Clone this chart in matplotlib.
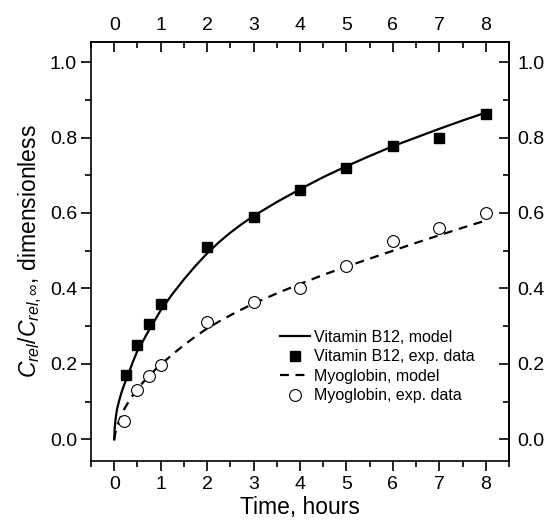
import numpy as np
import matplotlib
matplotlib.use("Agg")
import matplotlib.pyplot as plt
from matplotlib.ticker import MultipleLocator, FormatStrFormatter

plt.rcParams['font.family'] = ['Liberation Sans', 'DejaVu Sans']
plt.rcParams['mathtext.fontset'] = 'custom'
plt.rcParams['mathtext.rm'] = 'Liberation Sans'
plt.rcParams['mathtext.it'] = 'Liberation Sans:italic'

# experimental points
t_b12 = [0.25, 0.5, 0.75, 1.0, 2.0, 3.0, 4.0, 5.0, 6.0, 7.0, 8.0]
c_b12 = [0.172, 0.25, 0.305, 0.36, 0.51, 0.59, 0.66, 0.72, 0.778, 0.80, 0.862]

t_myo = [0.2, 0.5, 0.75, 1.0, 2.0, 3.0, 4.0, 5.0, 6.0, 7.0, 8.0]
c_myo = [0.05, 0.132, 0.169, 0.198, 0.31, 0.363, 0.40, 0.46, 0.525, 0.56, 0.60]

# model curves
t_model = [0, 0.01, 0.03, 0.06, 0.1, 0.15, 0.2, 0.3, 0.4, 0.5, 0.625, 0.75,
           0.875, 1.0, 1.25, 1.5, 1.75, 2.0, 2.25, 2.5, 2.75, 3.0, 3.5, 4.0,
           4.5, 5.0, 5.5, 6.0, 6.5, 7.0, 7.5, 8.0]
b12_model = [0, 0.03, 0.055, 0.08, 0.10, 0.122, 0.14, 0.172, 0.205, 0.235,
             0.262, 0.29, 0.316, 0.342, 0.385, 0.424, 0.46, 0.493, 0.522, 0.548,
             0.571, 0.592, 0.629, 0.663, 0.695, 0.724, 0.751, 0.777, 0.80,
             0.823, 0.845, 0.866]
myo_model = [0, 0.008, 0.02, 0.033, 0.048, 0.063, 0.077, 0.098, 0.117, 0.134,
             0.152, 0.168, 0.184, 0.198, 0.225, 0.25, 0.273, 0.294, 0.312, 0.329,
             0.345, 0.36, 0.387, 0.412, 0.436, 0.458, 0.479, 0.50, 0.521, 0.541,
             0.561, 0.58]

fig = plt.figure(figsize=(5.47, 5.22), dpi=100)
ax = fig.add_axes([91/547, 1 - 461/522, 418/547, 419/522])

ax.plot(t_model, b12_model, color='black', lw=1.6, label='Vitamin B12, model')
ax.plot(t_b12, c_b12, 's', color='black', ms=7, label='Vitamin B12, exp. data')
ax.plot(t_model, myo_model, color='black', lw=1.6, dashes=(4, 3),
        label='Myoglobin, model')
ax.plot(t_myo, c_myo, 'o', mfc='white', mec='black', mew=0.8, ms=8.5,
        label='Myoglobin, exp. data')

ax.set_xlim(-0.5, 8.5)
ax.set_ylim(-0.057, 1.053)

for s in ax.spines.values():
    s.set_linewidth(1.2)

# top and right axes repeat the scales with inward ticks
top = ax.secondary_xaxis('top')
right = ax.secondary_yaxis('right')

for a in (ax.xaxis, top.xaxis):
    a.set_major_locator(MultipleLocator(1))
    a.set_minor_locator(MultipleLocator(0.5))
for a in (ax.yaxis, right.yaxis):
    a.set_major_locator(MultipleLocator(0.2))
    a.set_minor_locator(MultipleLocator(0.1))
    a.set_major_formatter(FormatStrFormatter('%.1f'))

ax.tick_params(which='both', width=1.2, labelsize=14, direction='out',
               top=False, right=False)
ax.tick_params(which='major', length=7)
ax.tick_params(which='minor', length=4)
ax.tick_params(axis='x', which='major', pad=4)
ax.tick_params(axis='y', which='major', pad=3)

for sec in (top, right):
    sec.spines[:].set_linewidth(1.2)
    sec.tick_params(which='both', width=1.2, labelsize=14, direction='in')
    sec.tick_params(which='major', length=7, pad=6)
    sec.tick_params(which='minor', length=4)

ax.set_xlabel('Time, hours', fontsize=16.5, labelpad=2)
ax.set_ylabel(r'$C_{rel}/C_{rel,\infty}$, dimensionless', fontsize=16.5, labelpad=4)

ax.legend(loc='upper left', bbox_to_anchor=((280 - 91) / 418, (461 - 330) / 419),
          frameon=False, fontsize=11.5, numpoints=1, handlelength=1.9,
          handletextpad=0.25, labelspacing=0.28, borderpad=0, borderaxespad=0)

fig.savefig('out.png', dpi=100)
